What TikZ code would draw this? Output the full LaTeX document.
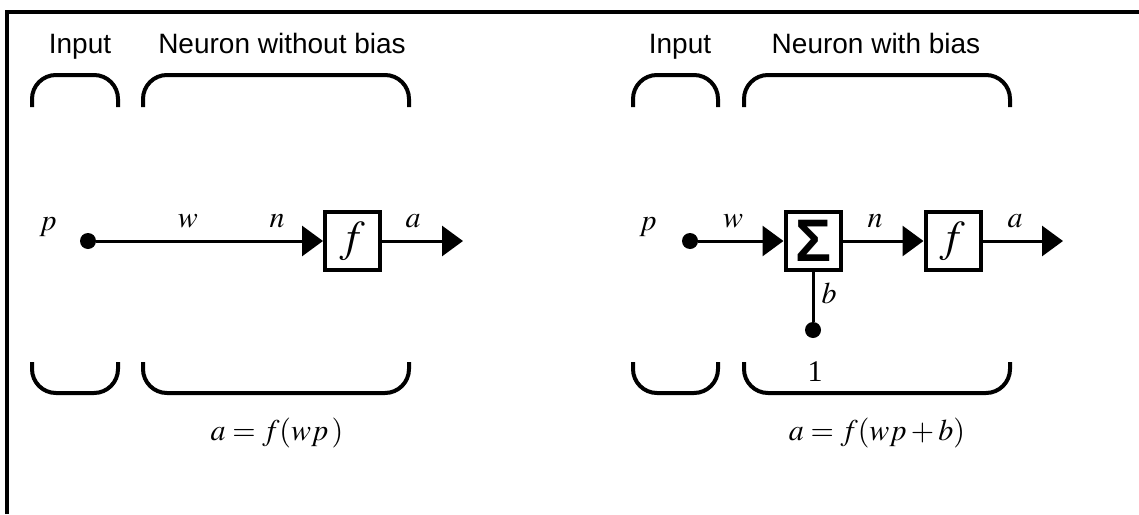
\documentclass[tikz,border=0pt]{standalone}
\usepackage{mathptmx}
\usepackage{fontspec}
\setmainfont{Liberation Serif}
\setsansfont{Liberation Sans}
\usetikzlibrary{arrows.meta, positioning}
\tikzset{
  hdr/.style  = {font=\sffamily\fontsize{14}{16}\selectfont, inner sep=0pt, anchor=base},
  sym/.style  = {font=\fontsize{15}{17}\selectfont, inner sep=0pt},
  eqn/.style  = {font=\fontsize{15}{17}\selectfont, inner sep=0pt},
  opbox/.style = {draw, line width=2pt, minimum width=27.5pt, minimum height=29pt,
                  inner sep=0pt},
  pdot/.style = {circle, fill, minimum size=8pt, inner sep=0pt},
  conn/.style = {line width=1.5pt},
  feed/.style = {conn, -{Triangle[length=10.5pt, width=15pt]}},
  brk/.style  = {line width=2pt, rounded corners=12pt},
}
\newcommand{\capbrk}[2]{%
  \draw[brk] (#1,107) -- (#1,75) -- (#2,75) -- (#2,107);
  \draw[brk] (#1,362) -- (#1,393) -- (#2,393) -- (#2,362);}

\begin{document}
\begin{tikzpicture}[x=0.5pt, y=-0.5pt]
  \useasboundingbox (0,0) rectangle (1139,514);
  \draw[line width=2pt] (7,514) -- (7,12) -- (1139,12);
  % neuron without bias
  \node[hdr] (inL) at (80,53) {Input};
  \node[hdr] (neuL) at (282,53) {Neuron without bias};
  \capbrk{32}{118}
  \capbrk{143}{409}
  \node[sym] (pL) at (48,227) {$p$};
  \node[pdot] (dotL) at (88,241) {};
  \node[opbox] (fL) at (352.5,241) {\fontsize{22}{22}\selectfont $f$};
  \coordinate (outL) at (463,241);
  \draw[feed] (dotL) -- (fL.west);
  \draw[feed] (fL.east) -- (outL);
  \node[sym] (wL) at (188,221) {$w$};
  \node[sym] (nL) at (277,221) {$n$};
  \node[sym] (aL) at (413,221) {$a$};
  \node[eqn] (eqL) at (277,433) {$a = f(wp\,)$};
  % neuron with bias
  \node[hdr] (inR) at (680,53) {Input};
  \node[hdr] (neuR) at (876,53) {Neuron with bias};
  \capbrk{633}{718}
  \capbrk{744}{1010}
  \node[sym] (pR) at (648,227) {$p$};
  \node[pdot] (dotR) at (690,241) {};
  \node[opbox] (sumR) at (813,241) {\sffamily\bfseries\fontsize{30}{30}\selectfont Σ};
  \node[opbox] (fR) at (953,241) {\fontsize{22}{22}\selectfont $f$};
  \coordinate (outR) at (1063,241);
  \node[pdot] (biasdot) at (813,330) {};
  \draw[feed] (dotR) -- (sumR.west);
  \draw[feed] (sumR.east) -- (fR.west);
  \draw[feed] (fR.east) -- (outR);
  \draw[conn] (sumR.south) -- (biasdot);
  \node[sym] (wR) at (733,221) {$w$};
  \node[sym] (nR) at (875,221) {$n$};
  \node[sym] (aR) at (1015,221) {$a$};
  \node[sym] (bR) at (829,293) {$b$};
  \node[sym] (oneR) at (815,372) {1};
  \node[eqn] (eqR) at (877,433) {$a = f(wp + b)$};
\end{tikzpicture}
\end{document}
